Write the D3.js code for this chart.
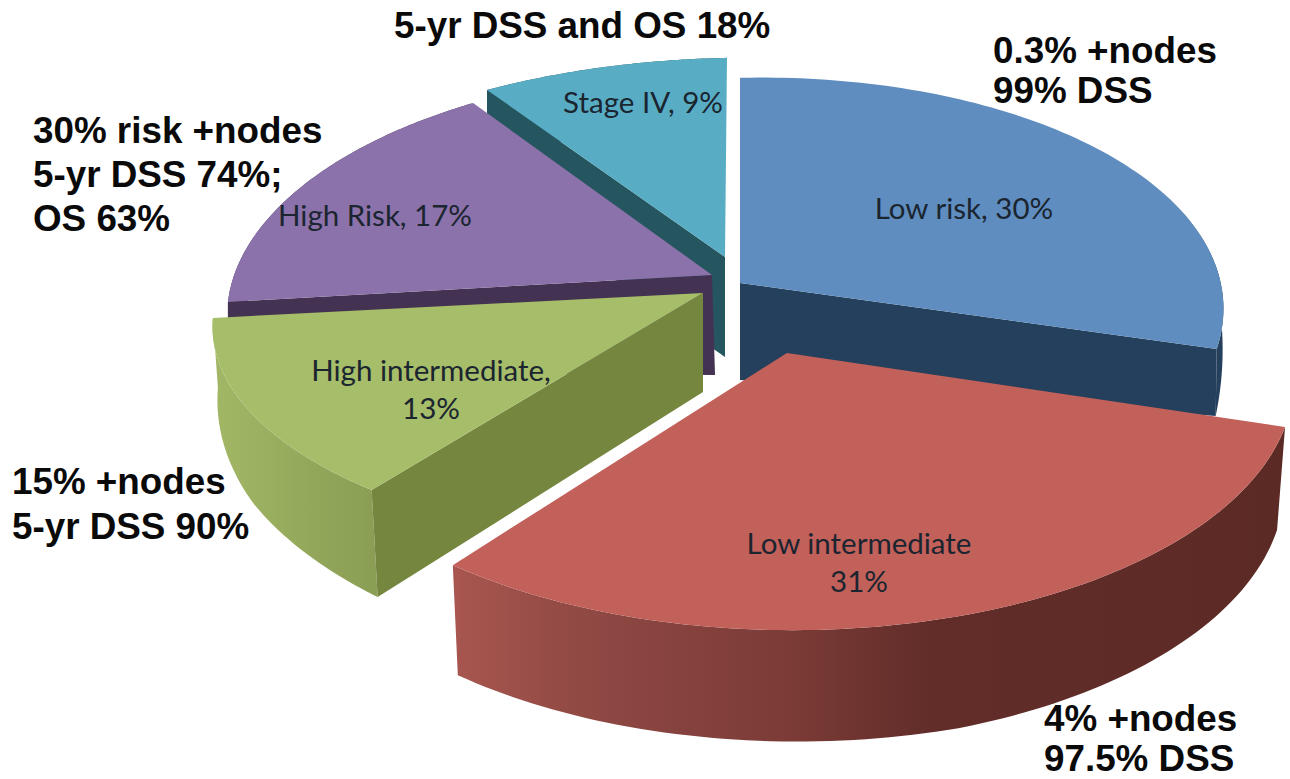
<!DOCTYPE html>
<html>
<head>
<meta charset="utf-8">
<title>Risk groups</title>
<script src="https://cdn.jsdelivr.net/npm/d3@7"></script>
<style>
  html, body { margin: 0; background: #fff; }
  svg { display: block; }
  .inner { font-family: Lato, "Open Sans", sans-serif; font-size: 29.5px; fill: #1b2530; text-anchor: middle; }
  .note { font-family: "Liberation Sans", Arial, sans-serif; font-weight: 700; font-size: 36.8px; fill: #0a0a0a; }
</style>
</head>
<body>
<svg id="chart" width="1290" height="779"></svg>
<script>
// Share of patients in each risk group, in percent, clockwise from twelve o'clock.
const categories = ["Low risk", "Low intermediate", "High intermediate", "High Risk", "Stage IV"];
const shares = [30, 31, 13, 17, 9];

// Text printed on each slice, one entry per line.
const sliceLabels = [
  ["Low risk, 30%"],
  ["Low intermediate", "31%"],
  ["High intermediate,", "13%"],
  ["High Risk, 17%"],
  ["Stage IV, 9%"]
];

// Outcome notes printed around the pie.
const outcomeNotes = [
  ["0.3% +nodes", "99% DSS"],
  ["4% +nodes", "97.5% DSS"],
  ["15% +nodes", "5-yr DSS 90%"],
  ["30% risk +nodes", "5-yr DSS 74%;", "OS 63%"],
  ["5-yr DSS and OS 18%"]
];

// Slice colours: top face, radial wall, outer wall stops.
const topColors = ["#5f8dc0", "#c2605a", "#a6bd69", "#8c72aa", "#58adc5"];
const wallColors = ["#25405c", "#5e2b26", "#75873f", "#433251", "#25565f"];
const rimStops = [
  [[0, "#25405c"], [1, "#25405c"]],
  [[453, "#a8564f"], [560, "#944b45"], [640, "#8a4541"], [790, "#7b3b36"], [930, "#622d29"], [1285, "#5c2a25"]],
  [[213, "#a2b866"], [300, "#95a95c"], [378, "#899d54"]],
  [[0, "#433251"], [1, "#433251"]],
  [[0, "#25565f"], [1, "#25565f"]]
];

// Projected frame of each exploded slice: apex, ellipse axes, shears, perspective and wall heights.
const frames = [
  { ax: 740, ay: 283, rx: 478, t: 0,     k: 236, s: -10.5, p: 0.15, apexDepth: 97,  apexShift: 0, rimDepth: [0, -80, 67],   rimShift: [0, 0, -1],  radial: "end" },
  { ax: 787, ay: 353, rx: 502.5, t: -15.4, k: 249.4, s: -5.7, p: 0.1, apexDepth: 100, apexShift: 0, rimDepth: [103, 112, 110], rimShift: [-8, 0, 5],  radial: null },
  { ax: 703, ay: 293, rx: 487.9, t: -23.3, k: 217, s: -11.1, p: 0.15, apexDepth: 99, apexShift: 0, rimDepth: [107, 92, 70],  rimShift: [6, 4, 5],   radial: "start" },
  { ax: 712, ay: 275, rx: 481.3, t: -13.4, k: 237, s: -11.8, p: 0.15, apexDepth: 100, apexShift: 3, rimDepth: [70, 35, 0],   rimShift: [0, 0, 0],   radial: "start" },
  { ax: 725, ay: 257, rx: 504, t: 2.3,   k: 229, s: -9.6,  p: 0.15, apexDepth: 100, apexShift: 0, rimDepth: [100, 50, 0],  rimShift: [0, 0, 0],   radial: "start" }
];

// Anchors of the slice labels and outcome notes.
const labelAnchors = [
  { x: 964, y: 219 }, { x: 859, y: 554 }, { x: 431, y: 381 }, { x: 375, y: 226 }, { x: 643, y: 113 }
];
const labelLeading = 37.5;
const noteAnchors = [
  { x: 993, y: 63, step: 40 }, { x: 1044, y: 731, step: 40 }, { x: 12, y: 494, step: 45 },
  { x: 33, y: 143, step: 44 }, { x: 394, y: 38, step: 0 }
];

// Clockwise from the top, in drawing order back to front.
const drawOrder = [4, 3, 0, 2, 1];

const svg = d3.select("#chart");
const defs = svg.append("defs");
const angles = d3.pie().sort(null).value(d => d)(shares);
const line = d3.line();

// Map a polar position on the pie plane to the screen through a slice's frame.
function project(f, theta, r = 1) {
  const u = r * Math.sin(theta), v = r * Math.cos(theta);
  const w = 1 + f.p * v;
  return [f.ax + (f.rx * u + f.t * v) / w, f.ay + (-f.k * v + f.s * u) / w];
}

drawOrder.forEach(i => {
  const f = frames[i], a = angles[i];
  const g = svg.append("g").attr("class", "slice").attr("data-name", categories[i]);
  const thetas = d3.range(0, 91).map(n => a.startAngle + (a.endAngle - a.startAngle) * n / 90);
  const along = d3.scaleLinear().domain([a.startAngle, (a.startAngle + a.endAngle) / 2, a.endAngle]);
  const depth = along.copy().range(f.rimDepth);
  const shift = along.copy().range(f.rimShift);
  // The wall fades out where it turns behind the top face.
  const lower = ([x, y], th) => [x + shift(th), y + Math.max(0, depth(th))];
  const rimTop = thetas.map(th => project(f, th));
  const rimBottom = thetas.map((th, n) => lower(rimTop[n], th));
  const apex = [f.ax, f.ay];
  const apexLow = [f.ax + f.apexShift, f.ay + f.apexDepth];

  // Outer wall, shaded across its width.
  const gradId = "rim-" + i;
  const xs = rimStops[i].map(d => d[0]);
  const grad = defs.append("linearGradient").attr("id", gradId)
    .attr("gradientUnits", "userSpaceOnUse")
    .attr("x1", d3.min(xs)).attr("x2", d3.max(xs)).attr("y1", 0).attr("y2", 0);
  const toOffset = d3.scaleLinear().domain(d3.extent(xs)).range([0, 1]);
  rimStops[i].forEach(d => grad.append("stop").attr("offset", toOffset(d[0])).attr("stop-color", d[1]));
  g.append("path")
    .attr("d", line(rimTop.concat(rimBottom.slice().reverse())) + "Z")
    .attr("fill", `url(#${gradId})`);

  // Cut face that looks towards the viewer.
  if (f.radial) {
    const n = f.radial === "start" ? 0 : thetas.length - 1;
    g.append("path")
      .attr("d", line([apex, rimTop[n], rimBottom[n], apexLow]) + "Z")
      .attr("fill", wallColors[i]);
  }

  // Top face.
  g.append("path")
    .attr("d", line([apex].concat(rimTop)) + "Z")
    .attr("fill", topColors[i]);
});

// Labels on the slices.
sliceLabels.forEach((lines, i) => {
  const t = svg.append("text").attr("class", "inner");
  lines.forEach((s, n) => t.append("tspan")
    .attr("x", labelAnchors[i].x)
    .attr("y", labelAnchors[i].y + n * labelLeading)
    .text(s));
});

// Notes around the pie.
outcomeNotes.forEach((lines, i) => {
  const t = svg.append("text").attr("class", "note");
  lines.forEach((s, n) => t.append("tspan")
    .attr("x", noteAnchors[i].x)
    .attr("y", noteAnchors[i].y + n * noteAnchors[i].step)
    .text(s));
});
</script>
</body>
</html>
